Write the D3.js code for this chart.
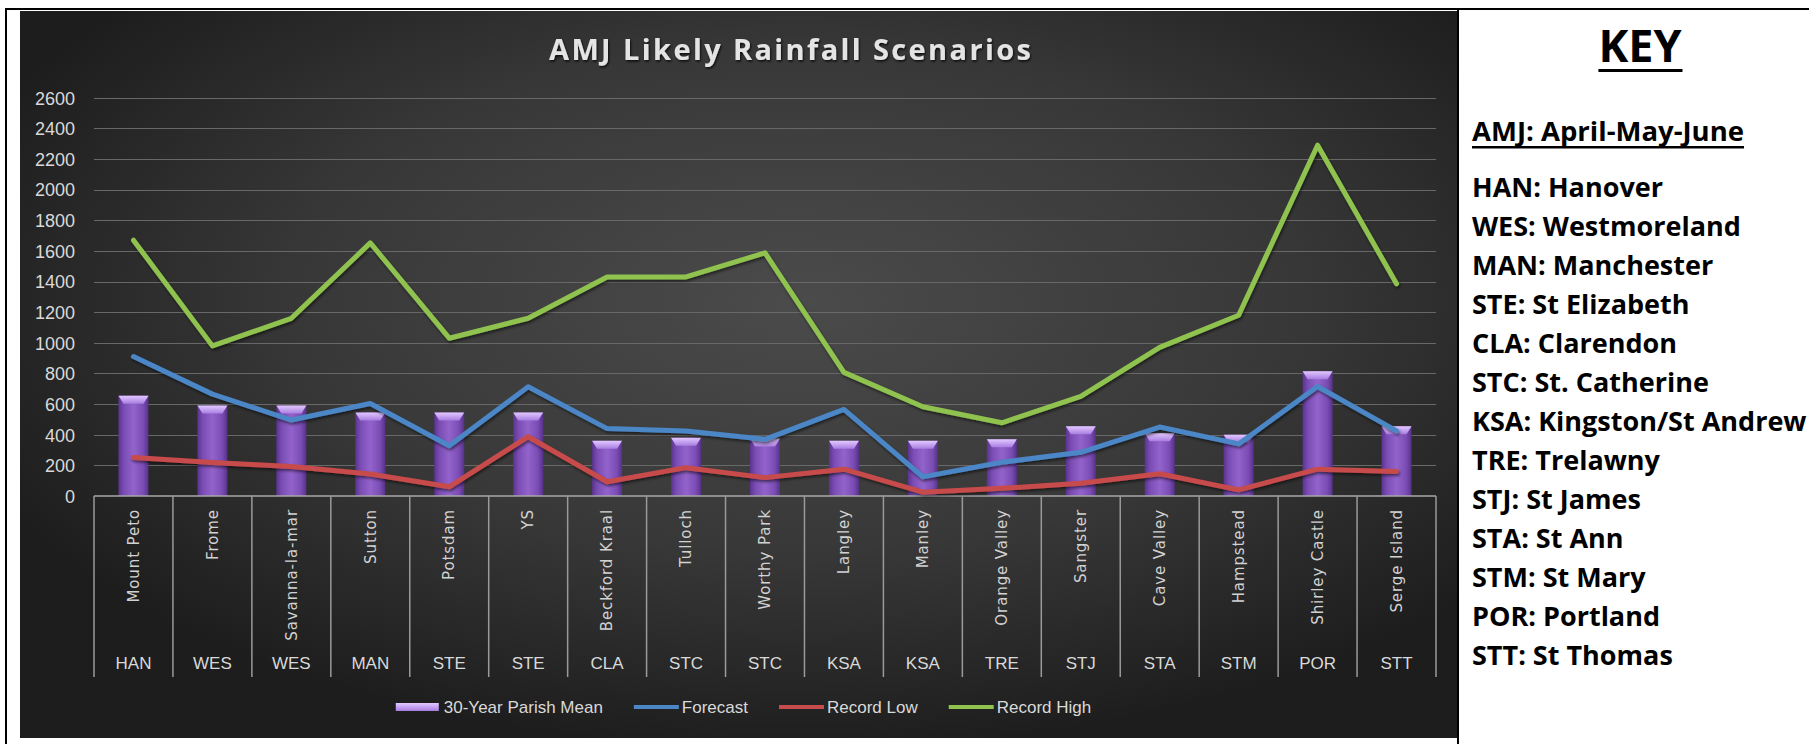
<!DOCTYPE html>
<html><head><meta charset="utf-8">
<script src="https://cdn.jsdelivr.net/npm/d3@7"></script>
<style>html,body{margin:0;padding:0;background:#fff;overflow:hidden}</style>
</head><body>
<svg id="c" width="1809" height="744"></svg>
<script>
// ---------- data ----------
const sites = ["Mount Peto","Frome","Savanna-la-mar","Sutton","Potsdam","YS","Beckford Kraal","Tulloch","Worthy Park","Langley","Manley","Orange Valley","Sangster","Cave Valley","Hampstead","Shirley Castle","Serge Island"];
const parishes = ["HAN","WES","WES","MAN","STE","STE","CLA","STC","STC","KSA","KSA","TRE","STJ","STA","STM","POR","STT"];
const meanVals = [655, 590, 590, 545, 545, 545, 360, 380, 375, 360, 360, 370, 455, 410, 400, 815, 455];
const forecastVals = [910, 665, 496, 604, 328, 713, 440, 425, 370, 565, 125, 220, 285, 450, 340, 715, 425];
const lowVals = [252, 218, 192, 143, 60, 387, 93, 185, 120, 175, 25, 50, 83, 145, 40, 175, 160];
const highVals = [1670, 980, 1160, 1652, 1030, 1160, 1430, 1430, 1587, 807, 583, 478, 650, 970, 1180, 2290, 1385];
const yTicks = [0,200,400,600,800,1000,1200,1400,1600,1800,2000,2200,2400,2600];
const seriesNames = ["30-Year Parish Mean","Forecast","Record Low","Record High"];
const titleText = "AMJ Likely Rainfall Scenarios";
const keyTitle = "KEY";
const keySub = "AMJ: April-May-June";
const keyItems = ["HAN: Hanover","WES: Westmoreland","MAN: Manchester","STE: St Elizabeth","CLA: Clarendon","STC: St. Catherine","KSA: Kingston/St Andrew","TRE: Trelawny","STJ: St James","STA: St Ann","STM: St Mary","POR: Portland","STT: St Thomas"];

// ---------- setup ----------
const svg = d3.select("#c");
const defs = svg.append("defs");

const bg = defs.append("radialGradient").attr("id","bgG")
  .attr("cx","0.54").attr("cy","0.40").attr("r","0.62");
bg.append("stop").attr("offset","0").attr("stop-color","#4b4b4b");
bg.append("stop").attr("offset","0.55").attr("stop-color","#383838");
bg.append("stop").attr("offset","1").attr("stop-color","#1d1d1d");

const barG = defs.append("linearGradient").attr("id","barG").attr("x1","0").attr("x2","1").attr("y1","0").attr("y2","0");
[["0","#5b338f"],["0.18","#7a4db4"],["0.5","#9363cc"],["0.82","#7a4db4"],["1","#57318a"]].forEach(s=>barG.append("stop").attr("offset",s[0]).attr("stop-color",s[1]));
const capG = defs.append("linearGradient").attr("id","capG").attr("x1","0").attr("x2","0").attr("y1","0").attr("y2","1");
capG.append("stop").attr("offset","0").attr("stop-color","#e2c8ff");
capG.append("stop").attr("offset","1").attr("stop-color","#a77de0");

const sh = defs.append("filter").attr("id","shadow").attr("x","-5%").attr("y","-20%").attr("width","110%").attr("height","140%");
sh.append("feDropShadow").attr("dx",1).attr("dy",2).attr("stdDeviation",1.5).attr("flood-color","#000").attr("flood-opacity",0.55);
const tsh = defs.append("filter").attr("id","tshadow");
tsh.append("feDropShadow").attr("dx",1).attr("dy",1.5).attr("stdDeviation",1).attr("flood-color","#000").attr("flood-opacity",0.8);

// frame
svg.append("rect").attr("x",20).attr("y",11).attr("width",1437).attr("height",727).attr("fill","url(#bgG)");
svg.append("rect").attr("x",5).attr("y",8).attr("width",1804).attr("height",2).attr("fill","#000");
svg.append("rect").attr("x",5).attr("y",8).attr("width",2).attr("height",736).attr("fill","#000");
svg.append("rect").attr("x",1457).attr("y",8).attr("width",2).attr("height",736).attr("fill","#000");

// scales
const plot = {left:94, right:1436, top:97.7, bottom:496};
const x = d3.scaleBand().domain(sites).range([plot.left, plot.right]);
const y = d3.scaleLinear().domain([0,2600]).range([plot.bottom, plot.top]);
const cx = d => x(d) + x.bandwidth()/2;

// title
svg.append("text").attr("x",790).attr("y",60).attr("text-anchor","middle")
  .attr("textLength",482).attr("lengthAdjust","spacing")
  .style("font","bold 29px 'Open Sans'").attr("fill","#e4e4e4").attr("filter","url(#tshadow)")
  .text(titleText);

// gridlines
svg.append("g").selectAll("line").data(yTicks.filter(t=>t>0)).join("line")
  .attr("x1",plot.left).attr("x2",plot.right)
  .attr("y1",d=>Math.round(y(d))+0.5).attr("y2",d=>Math.round(y(d))+0.5)
  .attr("stroke","#686868").attr("stroke-width",1);

// y axis labels
const yAxis = d3.axisLeft(y).tickValues(yTicks).tickSize(0).tickPadding(0).tickFormat(d3.format("d"));
const yg = svg.append("g").attr("transform","translate(75,0)").call(yAxis);
yg.select(".domain").remove();
yg.selectAll("text").attr("fill","#d9d9d9").style("font","18px 'Liberation Sans'").attr("dy","0.35em");

// bars
const bw = 30;
const barsG = svg.append("g");
sites.forEach((s,i)=>{
  const x0 = cx(s) - bw/2, y0 = y(meanVals[i]), h = plot.bottom - y0;
  barsG.append("rect").attr("x",x0).attr("y",y0).attr("width",bw).attr("height",h).attr("fill","url(#barG)");
  barsG.append("polygon").attr("points",[[x0,y0],[x0+bw,y0],[x0+bw-5,y0+8],[x0+5,y0+8]].map(p=>p.join(",")).join(" "))
    .attr("fill","url(#capG)");
});

// x axis
const ax = svg.append("g");
ax.append("line").attr("x1",plot.left).attr("x2",plot.right).attr("y1",496).attr("y2",496).attr("stroke","#a8a8a8").attr("stroke-width",1.5);
const edges = sites.map(s=>x(s)).concat([plot.right]);
ax.selectAll("line.div").data(edges).join("line").attr("class","div")
  .attr("x1",d=>d).attr("x2",d=>d).attr("y1",496).attr("y2",677).attr("stroke","#9a9a9a").attr("stroke-width",1.5);
ax.selectAll("text.site").data(sites).join("text").attr("class","site")
  .attr("transform",d=>`translate(${cx(d)},509) rotate(-90)`)
  .attr("text-anchor","end").attr("dy","0.35em")
  .style("font","15px 'DejaVu Sans'").style("letter-spacing","0.9px").attr("fill","#d2d2d2")
  .text(d=>d);
ax.selectAll("text.par").data(sites).join("text").attr("class","par")
  .attr("x",d=>cx(d)).attr("y",669).attr("text-anchor","middle")
  .style("font","17px 'Liberation Sans'").attr("fill","#d9d9d9")
  .text((d,i)=>parishes[i]);

// lines
const lineColors = ["#4b86c6","#c84b4b","#8fc24f"];
const lineData = [forecastVals, lowVals, highVals];
const lineGen = d3.line().x((d,i)=>cx(sites[i])).y(d=>y(d));
lineData.forEach((vals,k)=>{
  svg.append("path").datum(vals).attr("d",lineGen).attr("fill","none")
    .attr("stroke",lineColors[k]).attr("stroke-width",5).attr("stroke-linejoin","round").attr("stroke-linecap","round")
    .attr("filter","url(#shadow)");
});

// legend
const lg = svg.append("g");
const legCol = ["#9a6ad6","#4b86c6","#c84b4b","#8fc24f"];
let pos = 0;
seriesNames.forEach((n,i)=>{
  if(i===0){
    lg.append("rect").attr("x",pos).attr("y",-4).attr("width",43).attr("height",8).attr("fill","url(#capG)");
  } else {
    lg.append("rect").attr("x",pos).attr("y",-2).attr("width",45).attr("height",4).attr("fill",legCol[i]);
  }
  pos += 48;
  const t = lg.append("text").attr("x",pos).attr("y",6).style("font","17px 'Liberation Sans'").attr("fill","#d9d9d9").text(n);
  pos += t.node().getComputedTextLength() + 31;
});
pos -= 31;
lg.attr("transform",`translate(${743.5 - pos/2},707)`);

// key panel
const kt = svg.append("text").attr("x",1640).attr("y",62).attr("text-anchor","middle")
  .style("font","bold 45px 'Open Sans'").attr("fill","#000").text(keyTitle);
let bb = kt.node().getBBox();
svg.append("rect").attr("x",bb.x).attr("y",69).attr("width",bb.width).attr("height",3).attr("fill","#000");
const ks = svg.append("text").attr("x",1472).attr("y",141)
  .style("font","bold 27.5px 'Open Sans'").attr("fill","#000").text(keySub);
bb = ks.node().getBBox();
svg.append("rect").attr("x",1472).attr("y",146).attr("width",bb.width).attr("height",2.5).attr("fill","#000");
svg.append("g").selectAll("text").data(keyItems).join("text")
  .attr("x",1472).attr("y",(d,i)=>197+i*39)
  .style("font","bold 27px 'Open Sans'").attr("fill","#000").text(d=>d);
</script>
</body></html>
